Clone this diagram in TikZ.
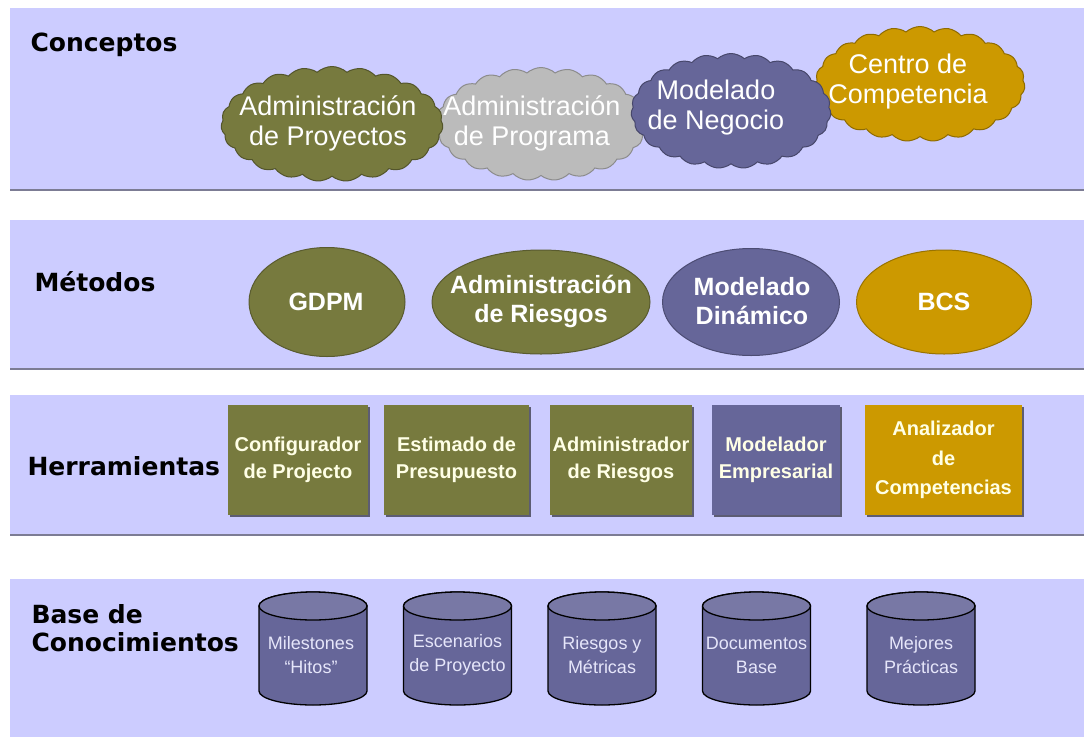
\documentclass[tikz,border=0pt]{standalone}
\usepackage{fontspec}
\setmainfont{Liberation Sans}
\newfontfamily\hdfont{DejaVu Sans}
\usetikzlibrary{shapes.geometric,shapes.symbols,shadows}

\definecolor{bandblue}{HTML}{CCCCFF}
\definecolor{bandline}{HTML}{7C7C94}
\definecolor{olivebox}{HTML}{777A3E}
\definecolor{slatebox}{HTML}{666699}
\definecolor{goldbox}{HTML}{CC9900}
\definecolor{greycloud}{HTML}{BBBBBB}
\definecolor{creamtext}{HTML}{FFFFE6}
\definecolor{kbtext}{HTML}{E6E6FA}

\tikzset{
  layer/.style={anchor=west, align=left, font=\hdfont\bfseries\fontsize{25}{28}\selectfont},
  concept/.style={cloud, cloud puffs=23, cloud puff arc=85, cloud ignores aspect,
    line width=1pt, inner sep=0pt},
  method/.style={ellipse, line width=1pt, inner sep=0pt},
  tool/.style={rectangle, minimum height=110, inner sep=0pt, text=creamtext, align=center,
    font=\bfseries\fontsize{20}{27}\selectfont,
    drop shadow={shadow xshift=2pt, shadow yshift=-2pt, fill=black, opacity=.55}},
  kbbody/.style={fill=slatebox, draw=black, line width=1.3pt},
  kbtop/.style={fill=slatebox!88!white, draw=black, line width=1.3pt}
}

\begin{document}
\begin{tikzpicture}[x=1pt,y=-1pt]
  \useasboundingbox (0,0) rectangle (1084,737);
  \fill[white] (0,0) rectangle (1084,737);

  \fill[bandblue] (10,8) rectangle (1084,190);
  \fill[bandblue] (10,220) rectangle (1084,369);
  \fill[bandblue] (10,395) rectangle (1084,535);
  \fill[bandblue] (10,579) rectangle (1084,737);
  \draw[bandline, line width=2pt] (10,190) -- (1084,190);
  \draw[bandline, line width=2pt] (10,369) -- (1084,369);
  \draw[bandline, line width=2pt] (10,535) -- (1084,535);

  \begin{scope}[every node/.style={layer}]
    \node (conceptos)    at (27,45)  {Conceptos};
    \node (metodos)      at (31,282) {Métodos};
    \node (herramientas) at (24,466) {Herramientas};
    \node (base)         at (28,628) {Base de\\Conocimientos};
  \end{scope}

  \begin{scope}[every node/.style={concept}]
    \node[fill=greycloud, draw=greycloud!75!black, minimum width=211, minimum height=113] (c2) at (541,124) {};
    \node[fill=goldbox, draw=goldbox!70!black, minimum width=210, minimum height=115] (c4) at (920,84) {};
    \node[fill=olivebox, draw=olivebox!70!black, minimum width=222, minimum height=115] (c1) at (332,124) {};
    \node[fill=slatebox, draw=slatebox!70!black, minimum width=200, minimum height=115] (c3) at (731,111) {};
  \end{scope}

  \begin{scope}[every node/.style={text=white, align=center, font=\fontsize{27}{30}\selectfont}]
    \node (c1t) at (328,123) {Administración\\de Proyectos};
    \node (c2t) at (532,123) {Administración\\de Programa};
    \node (c3t) at (716,108) {Modelado\\de Negocio};
    \node (c4t) at (908,82)  {Centro de\\Competencia};
  \end{scope}

  \begin{scope}[every node/.style={method}]
    \node[fill=olivebox, draw=olivebox!75!black, minimum width=156, minimum height=109] (m1) at (327,302) {};
    \node[fill=olivebox, draw=olivebox!75!black, minimum width=218, minimum height=104] (m2) at (541,302) {};
    \node[fill=slatebox, draw=slatebox!75!black, minimum width=177, minimum height=107] (m3) at (751,302) {};
    \node[fill=goldbox, draw=goldbox!75!black, minimum width=175, minimum height=104] (m4) at (944,302) {};
  \end{scope}

  \begin{scope}[every node/.style={text=white, align=center, font=\bfseries\fontsize{25}{29}\selectfont}]
    \node (m1t) at (326,302) {GDPM};
    \node (m2t) at (541,301) {Administración\\de Riesgos};
    \node (m3t) at (752,301) {Modelado\\Dinámico};
    \node (m4t) at (944,302) {BCS};
  \end{scope}

  \begin{scope}[every node/.style={tool}]
    \node[fill=olivebox, minimum width=140] (t1) at (298,460)   {Configurador\\de Projecto};
    \node[fill=olivebox, minimum width=145] (t2) at (456.5,460) {Estimado de\\Presupuesto};
    \node[fill=olivebox, minimum width=142] (t3) at (621,460)   {Administrador\\de Riesgos};
    \node[fill=slatebox, minimum width=128] (t4) at (776,460)   {Modelador\\Empresarial};
    \node[fill=goldbox, minimum width=157, font=\bfseries\fontsize{20}{29.5}\selectfont] (t5) at (943.5,460) {Analizador\\de\\Competencias};
  \end{scope}

  \foreach \x in {313,457.5,602,756.5,921} {
    \path[kbbody] (\x-54,606) -- (\x-54,691)
      arc[start angle=180, end angle=360, x radius=54pt, y radius=14pt]
      -- (\x+54,606)
      arc[start angle=0, end angle=180, x radius=54pt, y radius=14pt] -- cycle;
    \path[kbtop] (\x,606) ellipse[x radius=54pt, y radius=14pt];
  }

  \begin{scope}[every node/.style={text=kbtext, align=center, font=\fontsize{18}{24}\selectfont}]
    \node (k1) at (311,655)   {Milestones\\“Hitos”};
    \node (k2) at (457.5,655) {Escenarios\\de Proyecto};
    \node (k3) at (602,655)   {Riesgos y\\Métricas};
    \node (k4) at (756.5,655) {Documentos\\Base};
    \node (k5) at (921,655)   {Mejores\\Prácticas};
  \end{scope}

\end{tikzpicture}
\end{document}
